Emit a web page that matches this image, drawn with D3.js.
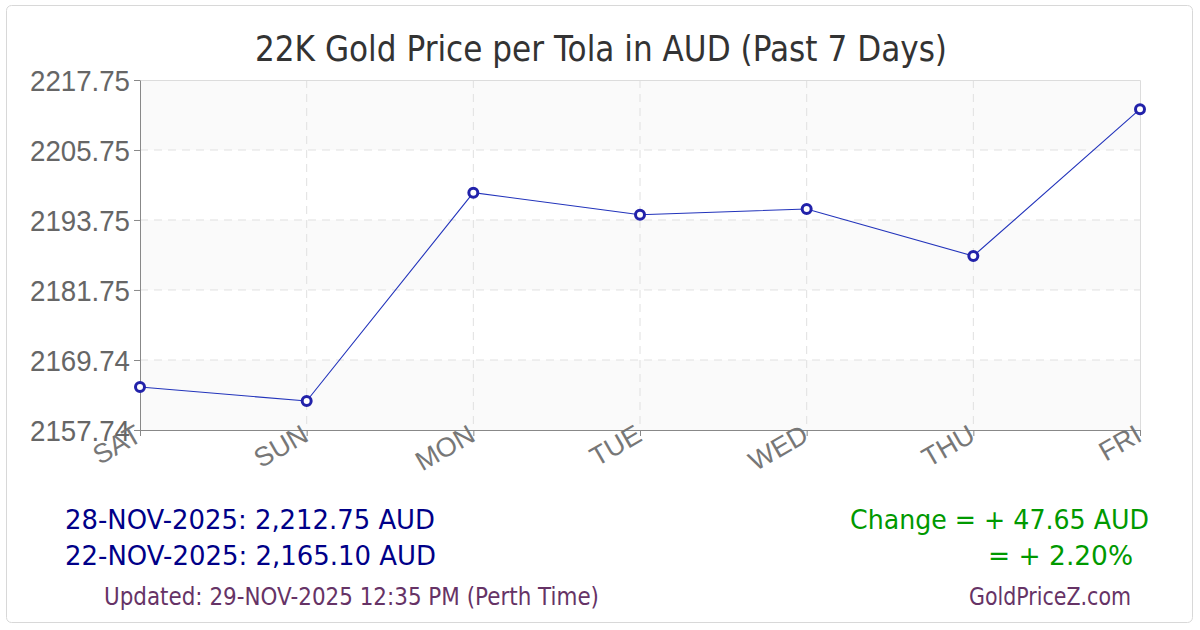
<!DOCTYPE html>
<html>
<head>
<meta charset="utf-8">
<script src="https://cdn.jsdelivr.net/npm/d3@7"></script>
<style>
    body { margin: 0; background: #fff; }
    svg { display: block; font-family: "DejaVu Sans", Verdana, sans-serif; }
</style>
</head>
<body>
<svg id="chart" width="1200" height="630"></svg>
<script>
const days = ["SAT", "SUN", "MON", "TUE", "WED", "THU", "FRI"];
const prices = [2165.10, 2162.71, 2198.43, 2194.65, 2195.63, 2187.57, 2212.75];
const yTicks = [2157.74, 2169.74, 2181.75, 2193.75, 2205.75, 2217.75];
const yTickLabels = ["2157.74", "2169.74", "2181.75", "2193.75", "2205.75", "2217.75"];

const titleText = "22K Gold Price per Tola in AUD (Past 7 Days)";
const lastLine = "28-NOV-2025: 2,212.75 AUD";
const firstLine = "22-NOV-2025: 2,165.10 AUD";
const changeLine = "Change = + 47.65 AUD";
const percentLine = "= + 2.20%";
const updatedLine = "Updated: 29-NOV-2025 12:35 PM (Perth Time)";
const siteLine = "GoldPriceZ.com";

const margin = { top: 80, right: 60, bottom: 200, left: 140 };
const width = 1200, height = 630;
const innerW = width - margin.left - margin.right;
const innerH = height - margin.top - margin.bottom;

const svg = d3.select("#chart");

// card
svg.append("rect")
    .attr("x", 6.5).attr("y", 5.5)
    .attr("width", 1186).attr("height", 617)
    .attr("rx", 5)
    .attr("fill", "#fff")
    .attr("stroke", "#d8d8d8");

svg.append("text")
    .attr("x", 601).attr("y", 61)
    .attr("text-anchor", "middle")
    .attr("font-size", 36)
    .attr("fill", "#333")
    .attr("textLength", 692)
    .attr("lengthAdjust", "spacingAndGlyphs")
    .text(titleText);

const g = svg.append("g").attr("transform", `translate(${margin.left},${margin.top})`);

const x = d3.scalePoint().domain(days).range([0, innerW]);
const y = d3.scaleLinear().domain([yTicks[0], yTicks[yTicks.length - 1]]).range([innerH, 0]);

// alternating bands
g.selectAll(".band")
    .data(d3.range(yTicks.length - 1))
    .join("rect")
    .attr("class", "band")
    .attr("x", 0)
    .attr("y", (i) => y(yTicks[i + 1]))
    .attr("width", innerW)
    .attr("height", (i) => y(yTicks[i]) - y(yTicks[i + 1]))
    .attr("fill", (i) => (i % 2 === 0 ? "#fafafa" : "#fff"));

// grid
g.selectAll(".hgrid")
    .data(yTicks.slice(1, -1))
    .join("line")
    .attr("x1", 0).attr("x2", innerW)
    .attr("y1", (d) => y(d)).attr("y2", (d) => y(d))
    .attr("stroke", "#e0e0e0")
    .attr("stroke-dasharray", "8,6");

g.selectAll(".vgrid")
    .data(days.slice(1, -1))
    .join("line")
    .attr("x1", (d) => x(d)).attr("x2", (d) => x(d))
    .attr("y1", 0).attr("y2", innerH)
    .attr("stroke", "#e0e0e0")
    .attr("stroke-dasharray", "8,6");

// top/right border
g.append("path")
    .attr("d", `M0,0.5H${innerW + 0.5}V${innerH}`)
    .attr("fill", "none")
    .attr("stroke", "#dcdcdc");

// axes
const yAxis = g.append("g")
    .call(d3.axisLeft(y).tickValues(yTicks).tickFormat((d, i) => yTickLabels[i]).tickSize(6).tickSizeOuter(0));
yAxis.select(".domain").attr("stroke", "#888");
yAxis.selectAll(".tick line").attr("stroke", "#888");
yAxis.selectAll(".tick text")
    .attr("x", -10)
    .attr("dy", "0.36em")
    .attr("font-size", 29)
    .attr("fill", "#666")
    .attr("textLength", 100)
    .attr("lengthAdjust", "spacingAndGlyphs");

const xAxis = g.append("g")
    .attr("transform", `translate(0,${innerH})`)
    .call(d3.axisBottom(x).tickSize(6).tickSizeOuter(0));
xAxis.select(".domain").attr("stroke", "#888");
xAxis.selectAll(".tick line").attr("stroke", "#888");
xAxis.selectAll(".tick text")
    .attr("y", 0).attr("dy", 0)
    .attr("font-size", 27)
    .attr("fill", "#777")
    .attr("text-anchor", "end")
    .attr("transform", "translate(3,10) rotate(-30)");

// series
const line = d3.line().x((d, i) => x(days[i])).y((d) => y(d));
g.append("path")
    .datum(prices)
    .attr("d", line)
    .attr("fill", "none")
    .attr("stroke", "#2233bb")
    .attr("stroke-width", 1.1);

g.selectAll(".dot")
    .data(prices)
    .join("circle")
    .attr("class", "dot")
    .attr("cx", (d, i) => x(days[i]))
    .attr("cy", (d) => y(d))
    .attr("r", 4.5)
    .attr("fill", "#fff")
    .attr("stroke", "#2222aa")
    .attr("stroke-width", 3);

// footer
const footer = [
    { t: lastLine, x: 65, y: 529, anchor: "start", len: 370, size: 27, color: "#000088" },
    { t: firstLine, x: 65, y: 565, anchor: "start", len: 371, size: 27, color: "#000088" },
    { t: changeLine, x: 1149, y: 529, anchor: "end", len: 299, size: 27, color: "#009900" },
    { t: percentLine, x: 1133, y: 565, anchor: "end", len: 145, size: 27, color: "#009900" },
    { t: updatedLine, x: 104, y: 605, anchor: "start", len: 495, size: 24, color: "#663366" },
    { t: siteLine, x: 1131, y: 605, anchor: "end", len: 162, size: 24, color: "#663366" },
];
svg.selectAll(".foot")
    .data(footer)
    .join("text")
    .attr("class", "foot")
    .attr("x", (d) => d.x)
    .attr("y", (d) => d.y)
    .attr("text-anchor", (d) => d.anchor)
    .attr("font-size", (d) => d.size)
    .attr("fill", (d) => d.color)
    .attr("textLength", (d) => d.len)
    .attr("lengthAdjust", "spacingAndGlyphs")
    .text((d) => d.t);
</script>
</body>
</html>
